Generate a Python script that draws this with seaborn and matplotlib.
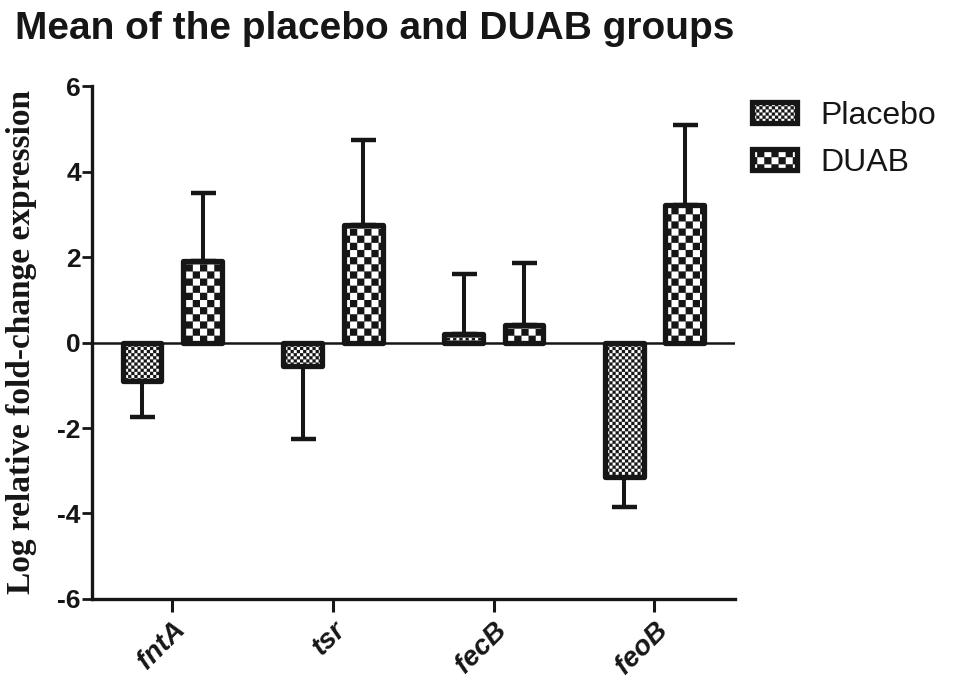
import warnings
warnings.filterwarnings("ignore")
import numpy as np
import pandas as pd
import matplotlib
matplotlib.use("Agg")
import matplotlib.pyplot as plt
import matplotlib.hatch as mhatch
import matplotlib.patches as mpatches
from matplotlib.path import Path
import seaborn as sns

# ---------------- data ----------------
genes = ["fntA", "tsr", "fecB", "feoB"]
groups = ["Placebo", "DUAB"]
placebo_mean = [-0.89, -0.54, 0.21, -3.14]
duab_mean = [1.92, 2.76, 0.42, 3.22]
placebo_err = [0.86, 1.72, 1.40, 0.70]
duab_err = [1.57, 1.98, 1.45, 1.88]
y_ticks = [-6, -4, -2, 0, 2, 4, 6]
title = "Mean of the placebo and DUAB groups"
ylabel = "Log relative fold-change expression"


# ---------------- checkerboard hatches ----------------
class _CheckerBase(mhatch.HatchPatternBase):
    char = None
    cells = 0

    def __init__(self, hatch, density):
        on = hatch.count(self.char) > 0
        n = self.cells
        self.squares = ([(i, j) for i in range(n) for j in range(n)
                         if (i + j) % 2 == 0] if on else [])
        self.num_vertices = 5 * len(self.squares)

    def set_vertices_and_codes(self, vertices, codes):
        n = self.cells
        k = 0
        for i, j in self.squares:
            x0, y0 = i / n, j / n
            x1, y1 = (i + 1) / n, (j + 1) / n
            vertices[k:k + 5] = [(x0, y0), (x1, y0), (x1, y1), (x0, y1), (x0, y0)]
            codes[k:k + 5] = [Path.MOVETO, Path.LINETO, Path.LINETO,
                              Path.LINETO, Path.CLOSEPOLY]
            k += 5


class FineChecker(_CheckerBase):
    char = "c"
    cells = 32


class CoarseChecker(_CheckerBase):
    char = "k"
    cells = 14


mhatch._hatch_types.extend([FineChecker, CoarseChecker])
hatch_for = {"Placebo": "c", "DUAB": "k"}
err_for = {"Placebo": placebo_err, "DUAB": duab_err}

# ---------------- style ----------------
sns.set_style("ticks")
plt.rcParams["font.family"] = ["Liberation Sans", "DejaVu Sans"]
plt.rcParams["axes.unicode_minus"] = False
plt.rcParams["hatch.linewidth"] = 0.1
plt.rcParams["hatch.color"] = "black"

INK = "#161616"

df = pd.DataFrame({
    "gene": genes * 2,
    "group": ["Placebo"] * len(genes) + ["DUAB"] * len(genes),
    "value": placebo_mean + duab_mean,
})

fig = plt.figure(figsize=(9.58, 6.9), dpi=100)
ax = fig.add_axes([0.096, 0.132, 0.767 - 0.096, 0.875 - 0.132])

sns.barplot(data=df, x="gene", y="value", hue="group", order=genes,
            hue_order=groups, palette={"Placebo": "white", "DUAB": "white"},
            edgecolor=INK, linewidth=3.8, width=0.752, gap=0.36,
            errorbar=None, legend=False, ax=ax, zorder=2)

for lab, cont in zip(groups, ax.containers):
    h = hatch_for[lab]
    errs = err_for[lab]
    xs, ys, lo, hi = [], [], [], []
    for p, e in zip(cont.patches, errs):
        p.set_hatch(h)
        p.set_joinstyle("round")
        v = p.get_y() + p.get_height()
        xs.append(p.get_x() + p.get_width() / 2)
        ys.append(v)
        lo.append(e if v < 0 else 0)
        hi.append(e if v >= 0 else 0)
    ax.errorbar(xs, ys, yerr=[lo, hi], fmt="none", ecolor=INK,
                elinewidth=2.9, capsize=9, capthick=3.2, zorder=1)

ax.axhline(0, color=INK, lw=1.8, zorder=1.5)

ax.set_xlim(-0.5, len(genes) - 0.5)
ax.set_ylim(-6, 6)
ax.set_yticks(y_ticks)
ax.set_yticklabels([str(t) for t in y_ticks], fontweight="bold", fontsize=19)
ax.set_xticks(range(len(genes)))
ax.set_xticklabels(genes, rotation=45, ha="right", rotation_mode="anchor",
                   fontstyle="italic", fontweight="bold", fontsize=20)
ax.set_xlabel("")
ax.set_ylabel("")

sns.despine(ax=ax)
for s in ["left", "bottom"]:
    ax.spines[s].set_linewidth(2.4)
    ax.spines[s].set_color(INK)
ax.tick_params(axis="y", length=7, width=2, pad=1, colors=INK)
ax.tick_params(axis="x", length=9, width=2.2, pad=4, colors=INK)

# legend
handles = [mpatches.Patch(facecolor="white", edgecolor=INK,
                          hatch=hatch_for[g], linewidth=3.8, label=g)
           for g in groups]
leg = fig.legend(handles=handles, loc="upper left",
                 bbox_to_anchor=(752 / 958, 1 - 101 / 690),
                 frameon=False, fontsize=23, handlelength=1.4,
                 handleheight=0.65, handletextpad=0.75, labelspacing=0.52,
                 borderpad=0, borderaxespad=0)
for t in leg.get_texts():
    t.set_color(INK)

fig.text(15 / 958, 1 - 39 / 690, title, fontsize=28, fontweight="bold",
         ha="left", va="baseline", color=INK)
fig.text(22 / 958, 1 - 342 / 690, ylabel, rotation=90, fontsize=24,
         fontweight="bold", family=["Liberation Serif", "DejaVu Serif"],
         ha="center", va="center", color=INK)

fig.savefig("out.png", dpi=100)
